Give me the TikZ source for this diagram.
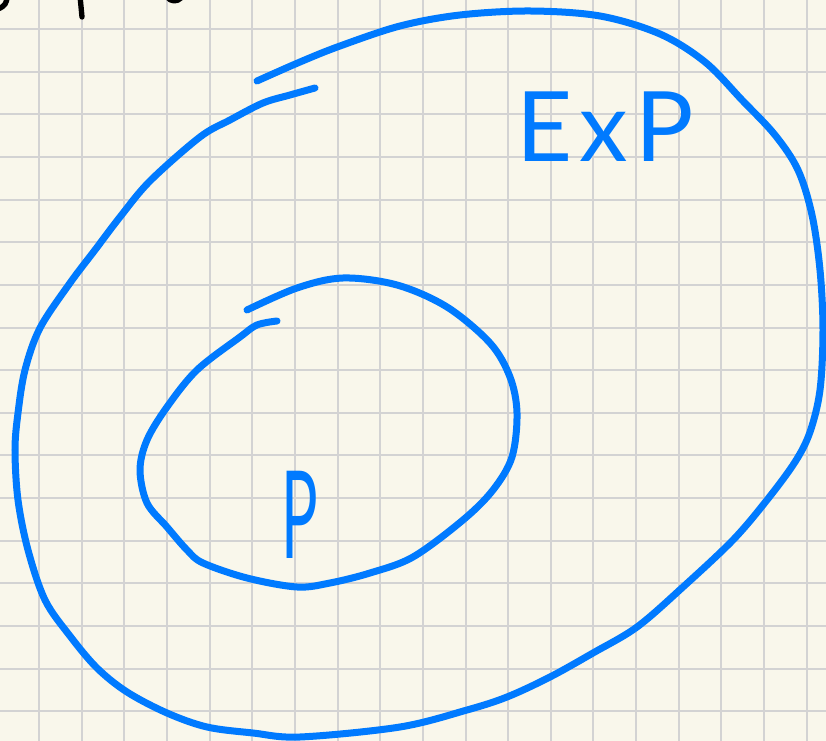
\documentclass[tikz,border=0pt]{standalone}
\usepackage{fontspec}
\setsansfont{Lato}
\usetikzlibrary{calc}

\definecolor{paper}{RGB}{249,247,235}
\definecolor{gridgray}{RGB}{211,211,211}
\definecolor{penblue}{RGB}{0,122,255}

\begin{document}
\begin{tikzpicture}[x=0.03cm, y=-0.03cm, line join=round, line cap=round,
    setline/.style={line width=0.21cm, penblue},
    inkline/.style={line width=0.16cm, black},
    setlabel/.style={text=penblue, font=\sffamily\fontsize{83}{90}\selectfont, inner sep=0pt}]
    % paper and grid
    \fill[paper] (0,0) rectangle (826,741);
    \useasboundingbox (0,0) rectangle (826,741);
    \foreach \k in {0,...,18}
      \draw[gridgray, line width=0.06cm] (39+42.65*\k,0) -- (39+42.65*\k,741);
    \foreach \k in {0,...,16}
      \draw[gridgray, line width=0.06cm] (0,29+42.65*\k) -- (826,29+42.65*\k);
    % cut-off ink at the top
    \begin{scope}
      \clip (0,0) rectangle (826,741);
      \draw[inkline] (-2,9) .. controls (5,6) and (7,3) .. (7,-4);
      \draw[inkline] (80,-4) -- (82,17);
      \draw[inkline] (167,-3) .. controls (171,2) and (177,2) .. (181,-2);
    \end{scope}
    % outer set
    \draw[setline] plot[smooth, tension=0.55] coordinates {
      (257,81) (300,62) (340,46) (400,26) (460,15) (530,11) (600,16) (660,34)
      (705,62) (742,100) (775,135) (798,170) (812,215) (820,270) (823,330)
      (820,390) (810,432) (795,462) (767,500) (733,540) (683,587) (637,627)
      (593,653) (550,677) (507,697) (467,710) (400,727) (300,737) (253,733)
      (207,727) (167,713) (127,692) (97,668) (70,636) (45,600)
      (28,550) (18,500) (15,450) (18,413) (25,370) (40,328) (70,283)
      (95,250) (120,217) (150,181) (200,137) (230,120) (263,103) (290,95) (315,88)
    };
    % inner set
    \draw[setline] plot[smooth, tension=0.55] coordinates {
      (247,310) (297,288) (343,278) (397,285) (447,307) (490,343) (510,377)
      (517,413) (512,457) (493,490) (463,520) (413,557) (370,573) (330,583)
      (297,587) (247,578) (203,563) (187,550) (167,527) (147,503) (140,470)
      (147,440) (167,407) (197,370) (240,337) (257,325) (277,321)
    };
    % labels
    \node[setlabel] (exp) at (605,127) {E\kern6pt x\kern6pt P};
    \node[setlabel, font=\sffamily\fontsize{104}{110}\selectfont, xscale=0.5] (p) at (300,515) {P};
  \end{tikzpicture}
\end{document}
